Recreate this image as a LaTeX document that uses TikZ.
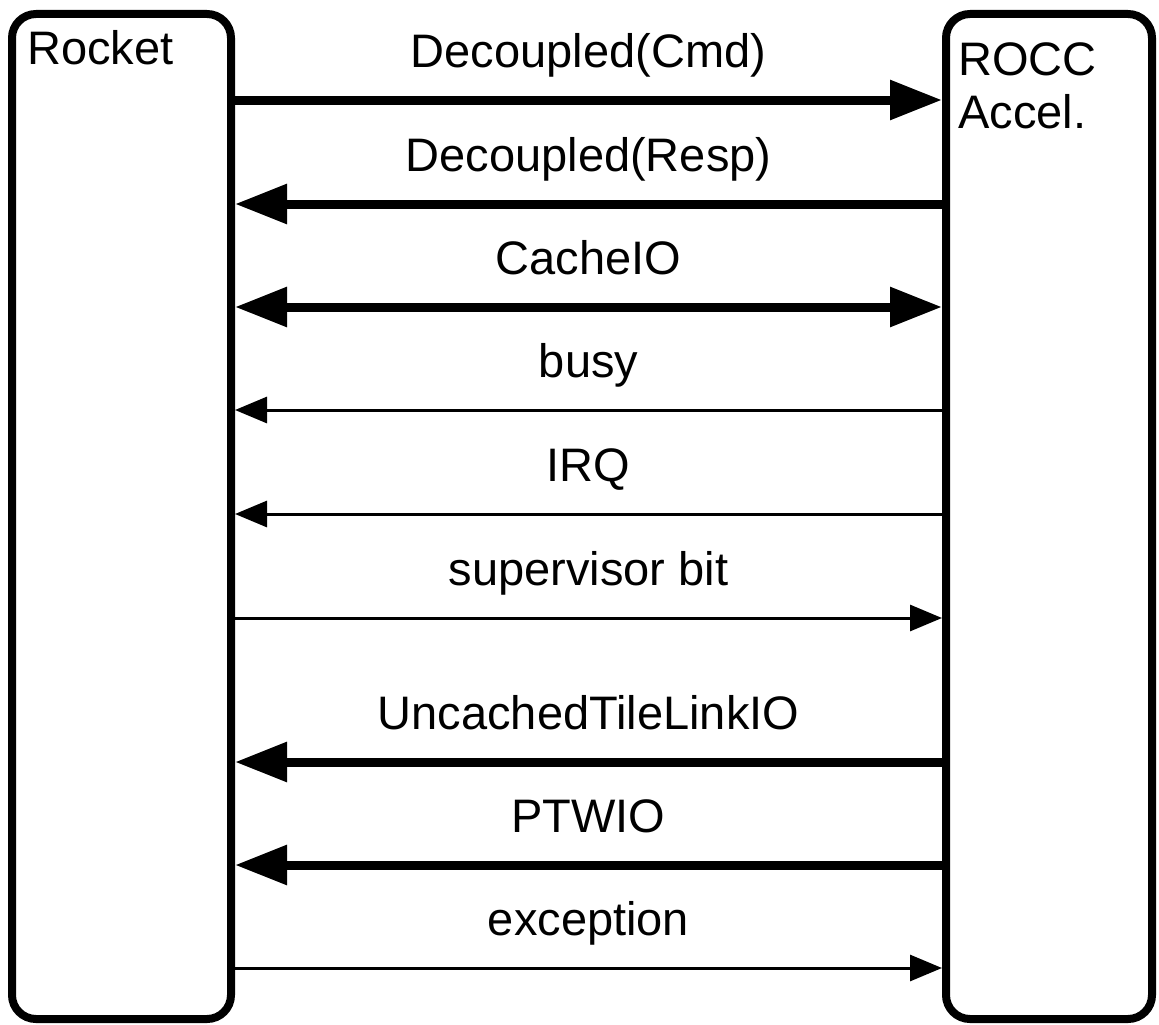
\documentclass[tikz,border=0pt]{standalone}
\usepackage{fontspec}
\setmainfont{Liberation Sans}
\usetikzlibrary{arrows.meta}

\tikzset{
  bustip/.tip={Triangle[length=52pt,width=38pt]},
  wiretip/.tip={Triangle[length=32pt,width=26pt]}
}

\begin{document}
\begin{tikzpicture}[x=1pt,y=-1pt,
  block/.style={draw, line width=8pt, rounded corners=24pt, inner sep=0pt},
  blockname/.style={anchor=base west, inner sep=0pt, align=left, font=\fontsize{47}{52}\selectfont},
  sig/.style={anchor=base, inner sep=0pt, font=\fontsize{47}{52}\selectfont},
  bus/.style={line width=9pt},
  wire/.style={line width=3pt}
]
\useasboundingbox (0,0) rectangle (1159,1025);

% Blocchi
\node[block, minimum width=219pt, minimum height=1005pt] (rocket) at (121.5,516.5) {};
\node[block, minimum width=206pt, minimum height=1005pt] (accel) at (1049,516.5) {};

\node[blockname] (rocketname) at (27,65) {Rocket};
\node[blockname] (accelname) at (958,128) {ROCC\\Accel.};

% Segnali
\foreach \y/\txt/\w/\tip [count=\i] in {
    100/Decoupled(Cmd)/bus/-bustip,
    204/Decoupled(Resp)/bus/bustip-,
    307/CacheIO/bus/bustip-bustip,
    410/busy/wire/wiretip-,
    514/IRQ/wire/wiretip-,
    618/supervisor bit/wire/-wiretip,
    762/UncachedTileLinkIO/bus/bustip-,
    865/PTWIO/bus/bustip-,
    968/exception/wire/-wiretip} {
  \coordinate (s\i-l) at (rocket.east |- 0,\y);
  \coordinate (s\i-r) at (accel.west |- 0,\y);
  \draw[\w,\tip] (s\i-l) -- (s\i-r) node[sig, midway, yshift=33pt] (lab\i) {\txt};
}

\end{tikzpicture}
\end{document}
